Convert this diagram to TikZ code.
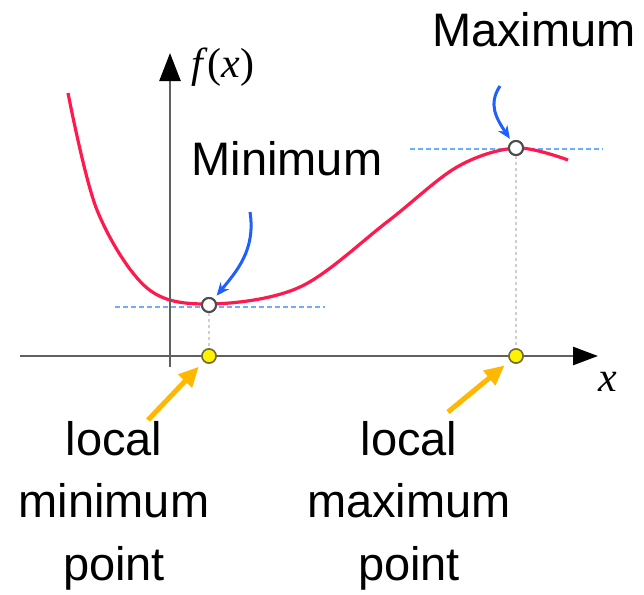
\documentclass[tikz,border=0pt]{standalone}
\usepackage{fontspec}
\setmainfont{Liberation Sans}
\newfontfamily\timesfont{Liberation Serif}
\definecolor{curvered}{HTML}{FF1A4E}
\definecolor{pointblue}{HTML}{1F5FFF}
\definecolor{levelblue}{HTML}{6AAEFF}
\definecolor{markorange}{HTML}{FFB700}
\definecolor{axisgray}{HTML}{606060}
\definecolor{guidegray}{HTML}{CFCFCF}
\definecolor{dotrim}{HTML}{6E6A3A}
\usetikzlibrary{arrows.meta,positioning}

\begin{document}
\begin{tikzpicture}[x=1pt,y=-1pt,font=\fontsize{47}{62.5}\selectfont,
 axis/.style={draw=axisgray,line width=2.5pt},
 axislabel/.style={font=\timesfont\fontsize{42}{48}\selectfont,inner sep=0pt},
 caption/.style={inner sep=0pt,align=center},
 hollowdot/.style={circle,draw=axisgray!80!black,fill=white,line width=2pt,%
   minimum size=14pt,inner sep=0pt},
 yellowdot/.style={circle,draw=dotrim,fill=yellow,line width=1.5pt,%
   minimum size=14pt,inner sep=0pt},
 levelline/.style={draw=levelblue,line width=2.2pt,dash pattern=on 5pt off 3pt},
 guide/.style={draw=guidegray,line width=2pt,dash pattern=on 3pt off 3pt},
 bluearr/.style={-{Stealth[length=13pt,width=11pt]},draw=pointblue,line width=3pt},
 orangearr/.style={-{Triangle[length=20pt,width=18pt]},draw=markorange,%
   line width=5pt,shorten >=7pt}]
\useasboundingbox (0,0) rectangle (644,594);
% points on the curve and on the x axis
\node[hollowdot] (minpt) at (209,305) {};
\node[hollowdot] (maxpt) at (516,148) {};
\node[yellowdot] (minx) at (209,356) {};
\node[yellowdot] (maxx) at (516,356) {};
% level lines and guides
\draw[levelline] (115,307) -- (325,307);
\draw[levelline] (410,149) -- (603,149);
\draw[guide] (minpt) -- (minx);
\draw[guide] (maxpt) -- (maxx);
% the function
\draw[curvered,line width=3.2pt] plot[smooth,tension=0.55] coordinates {%
  (68,93) (97,210) (147,288) (209,304) (300,287)%
  (387,222) (457,167) (516,148) (568,160)};
% axes
\coordinate (xstart) at (20,356);
\coordinate (xend) at (598,356);
\coordinate (ystart) at (170,367);
\coordinate (yend) at (170,53);
\draw[axis,-{Triangle[length=25pt,width=18pt,color=black]}] (xstart)--(xend);
\draw[axis,-{Triangle[length=28pt,width=21pt,color=black]}] (ystart)--(yend);
\node[axislabel] (xlabel) at (608,382) {\textit{x}};
\node[axislabel] (flabel) at (223,67) {\textit{f}(\textit{x})};
% redraw the dots above the curve and axes
\node[hollowdot] at (minpt) {};
\node[hollowdot] at (maxpt) {};
\node[yellowdot] at (minx) {};
\node[yellowdot] at (maxx) {};
% labels
\node[caption,anchor=base] (maxlabel) at (534,46) {Maximum};
\node[caption,anchor=base] (minlabel) at (287,175) {Minimum};
\node[caption,anchor=north] (locmin) at (114,421) {local\\minimum\\point};
\node[caption,anchor=north] (locmax) at (409,421) {local\\maximum\\point};
% pointers
\coordinate (mintail) at (250,212);
\coordinate (maxtail) at (500,86);
\draw[bluearr,shorten >=4pt] (mintail) .. controls (256,250) and (236,272) .. (minpt);
\draw[bluearr,shorten >=3pt] (maxtail) .. controls (488,104) and (496,118) .. (maxpt);
\coordinate (locmintail) at (148,420);
\coordinate (locmaxtail) at (448,412);
\draw[orangearr] (locmintail) -- (minx);
\draw[orangearr] (locmaxtail) -- (maxx);
\end{tikzpicture}
\end{document}
